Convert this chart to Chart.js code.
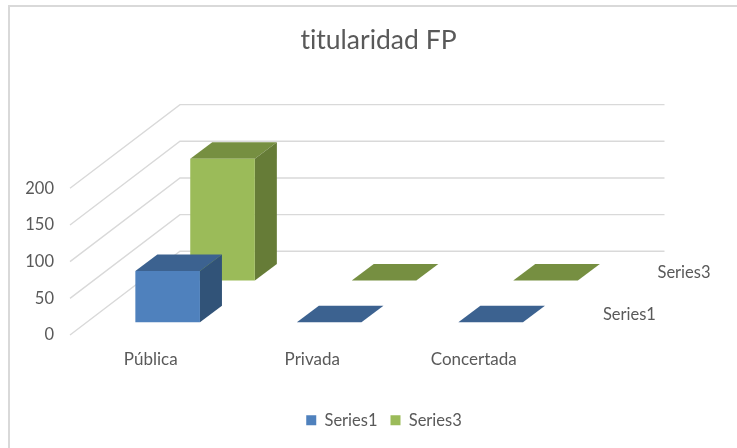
<!DOCTYPE html>
<html>
<head>
<meta charset="utf-8">
<style>html,body{margin:0;padding:0;background:#fff}#w{width:737px;height:448px;position:relative}</style>
<script src="https://cdn.jsdelivr.net/npm/chart.js@4/dist/chart.umd.min.js"></script>
</head>
<body>
<div id="w"><canvas id="c" width="737" height="448"></canvas></div>
<script>
const categories = ["Pública", "Privada", "Concertada"];
const series1 = [70, 0, 0];
const series3 = [166, 0, 0];
const yTicks = [0, 50, 100, 150, 200];

const FONT = "Lato, 'Open Sans', sans-serif";
const TEXT = "#595959";
const FLOOR = { dx: 110, dy: -83.7 };
const BAR_DEPTH = { dx: 22, dy: -16.5 };

const plugin3d = {
  id: "plugin3d",
  afterLayout(chart) {
    chart.legend.left += 5.5;
    chart.legend.right += 5.5;
  },
  beforeDraw(chart) {
    const c = chart.ctx;
    c.textRendering = "optimizeSpeed";
    c.save();
    c.strokeStyle = "#d9d9d9";
    c.lineWidth = 2;
    c.beginPath();
    c.moveTo(9, 448); c.lineTo(9, 6); c.lineTo(737, 6);
    c.stroke();
    c.restore();
  },
  beforeDatasetsDraw(chart) {
    const c = chart.ctx, y = chart.scales.y, a = chart.chartArea;
    c.save();
    c.strokeStyle = "#d9d9d9";
    c.lineWidth = 1.4;
    yTicks.forEach(v => {
      const p = y.getPixelForValue(v);
      c.beginPath();
      c.moveTo(a.left, p);
      c.lineTo(a.left + FLOOR.dx, p + FLOOR.dy);
      c.lineTo(a.right + FLOOR.dx, p + FLOOR.dy);
      c.stroke();
    });
    c.restore();
  },
  beforeDatasetDraw(chart, args) {
    const c = chart.ctx, ds = chart.data.datasets[args.index], m = chart.getDatasetMeta(args.index);
    const d = BAR_DEPTH, o = ds.depthOffset;
    c.save();
    c.translate(o.dx, o.dy);
    m.data.forEach(b => {
      const l = b.x - b.width / 2, r = b.x + b.width / 2;
      c.fillStyle = ds.topColor;
      c.beginPath();
      c.moveTo(l, b.y); c.lineTo(r, b.y); c.lineTo(r + d.dx, b.y + d.dy); c.lineTo(l + d.dx, b.y + d.dy);
      c.closePath(); c.fill();
      if (b.base - b.y > 0.5) {
        c.fillStyle = ds.sideColor;
        c.beginPath();
        c.moveTo(r, b.y); c.lineTo(r + d.dx, b.y + d.dy); c.lineTo(r + d.dx, b.base + d.dy); c.lineTo(r, b.base);
        c.closePath(); c.fill();
      }
    });
  },
  afterDatasetDraw(chart) {
    chart.ctx.restore();
  },
  afterDatasetsDraw(chart) {
    const c = chart.ctx, a = chart.chartArea, y = chart.scales.y;
    c.save();
    c.font = "16.5px " + FONT;
    c.fillStyle = TEXT;
    c.textAlign = "left";
    c.textBaseline = "middle";
    chart.data.datasets.forEach(ds => {
      const o = ds.depthOffset;
      c.fillText(ds.label, a.right + o.dx + ds.rowLabelGap, y.getPixelForValue(0) + o.dy - 8);
    });
    c.restore();
  }
};

new Chart(document.getElementById("c"), {
  type: "bar",
  plugins: [plugin3d],
  data: {
    labels: categories,
    datasets: [
      { label: "Series1", data: series1, backgroundColor: "#4f81bd", topColor: "#3c6290", sideColor: "#315378",
        order: 1, clip: false, depthOffset: { dx: 16.9, dy: -12.7 }, rowLabelGap: 31.5 },
      { label: "Series3", data: series3, backgroundColor: "#9bbb59", topColor: "#768f41", sideColor: "#667c37",
        order: 2, clip: false, depthOffset: { dx: 71.8, dy: -54.5 }, rowLabelGap: 31.2 }
    ]
  },
  options: {
    responsive: false,
    animation: false,
    devicePixelRatio: 1,
    grouped: false,
    barPercentage: 0.4,
    categoryPercentage: 1,
    layout: { padding: { left: 20, right: 0, top: 0, bottom: 9.5 } },
    plugins: {
      tooltip: { enabled: false },
      title: {
        display: true, text: "titularidad FP", color: TEXT,
        font: { family: FONT, size: 26.5, weight: "normal" },
        padding: { top: 24.5, bottom: 132 }
      },
      legend: {
        position: "bottom",
        labels: { color: TEXT, boxWidth: 10, boxHeight: 10, padding: 13, font: { family: FONT, size: 16.5 } }
      }
    },
    scales: {
      x: {
        grid: { display: false }, border: { display: false },
        ticks: { color: TEXT, font: { family: FONT, size: 17 }, maxRotation: 0, padding: 6 },
        afterFit(s) { s.height = 64; }
      },
      y: {
        min: 0, max: 200,
        afterFit(s) { s.width = 50; },
        grid: { display: false }, border: { display: false },
        ticks: { stepSize: 50, color: TEXT, font: { family: FONT, size: 16.5 }, padding: 8 }
      },
      rightSpace: {
        axis: "y", position: "right",
        afterFit(s) { s.width = 182.5; },
        grid: { display: false }, border: { display: false },
        ticks: { display: false }
      }
    }
  }
});
</script>
</body>
</html>
